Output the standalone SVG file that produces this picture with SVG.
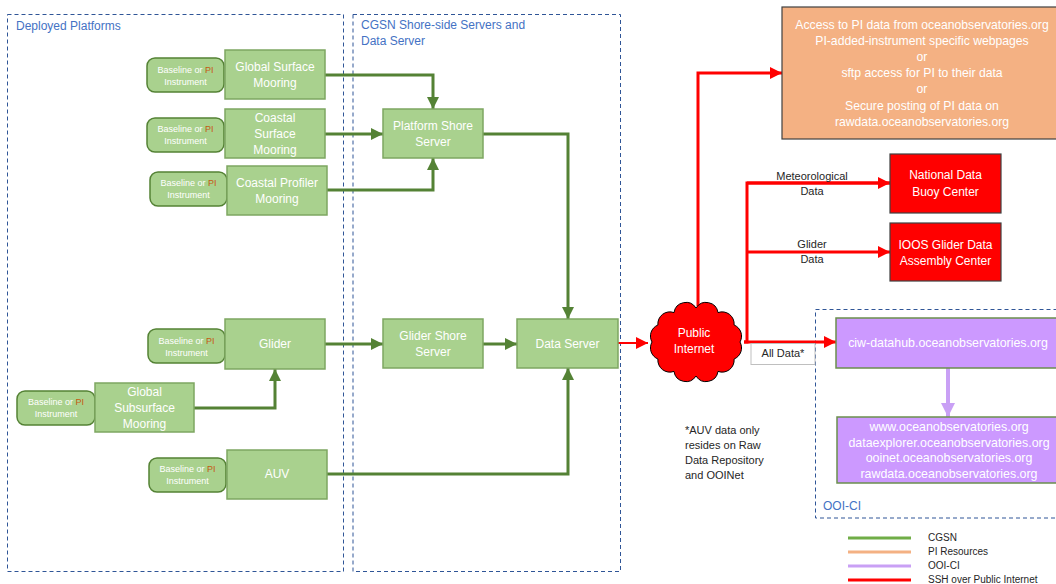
<svg xmlns="http://www.w3.org/2000/svg" width="1056" height="584" viewBox="0 0 1056 584">
<style>
text{font-family:"Liberation Sans",Arial,sans-serif}
.zone{fill:none;stroke:#2F5597;stroke-width:1;stroke-dasharray:4 3}
.ztitle{fill:#4472C4;font-size:12px}
.plat{fill:#A9D18E;stroke:#7EA661;stroke-width:1.5}
.pill{fill:#A9D18E;stroke:#548235;stroke-width:1.5}
.wt{fill:#fff;font-size:12px;text-anchor:middle}
.pt{fill:#fff;font-size:9px;text-anchor:middle}
.pi{fill:#C55A11}
.g{fill:none;stroke:#548235;stroke-width:3;marker-end:url(#ag)}
.r{fill:none;stroke:#FF0000;stroke-width:3}
.ra{marker-end:url(#ar)}
.lbl{fill:#262626;font-size:11px;text-anchor:middle}
.ot{fill:#fff;font-size:12.2px;text-anchor:middle}
.purp{fill:#CC99FF;stroke:#6B8E4E;stroke-width:1.5}
.put{fill:#fff;font-size:12.4px;text-anchor:middle}
.lg{font-size:10px;fill:#262626}
</style>
<defs>
<marker id="ag" markerUnits="userSpaceOnUse" viewBox="0 0 12 12" refX="12" refY="6" markerWidth="12" markerHeight="12" orient="auto"><path d="M0,0 L12,6 L0,12 z" fill="#548235"/></marker>
<marker id="ar" markerUnits="userSpaceOnUse" viewBox="0 0 12 12" refX="12" refY="6" markerWidth="12" markerHeight="12" orient="auto"><path d="M0,0 L12,6 L0,12 z" fill="#FF0000"/></marker>
<marker id="ap" markerUnits="userSpaceOnUse" viewBox="0 0 14 14" refX="14" refY="7" markerWidth="14" markerHeight="14" orient="auto"><path d="M0,0 L14,7 L0,14 z" fill="#C9A0F5"/></marker>
</defs>
<rect width="1056" height="584" fill="#fff"/>

<g id="zone-deployed">
<rect class="zone" x="7.5" y="14.5" width="336" height="557"/>
<text class="ztitle" x="16" y="30">Deployed Platforms</text>
</g>
<g id="zone-cgsn">
<rect class="zone" x="353" y="14.5" width="267.5" height="557"/>
<text class="ztitle" x="361" y="29">CGSN Shore-side Servers and</text>
<text class="ztitle" x="361" y="45">Data Server</text>
</g>
<g id="zone-ooici">
<rect class="zone" x="815.5" y="309.5" width="250" height="208.5"/>
<text class="ztitle" x="823" y="510">OOI-CI</text>
</g>

<g id="connectors">
<polyline class="g" points="325,75 433,75 433,109"/>
<polyline class="g" points="325,134 383,134"/>
<polyline class="g" points="327,190 433,190 433,158"/>
<polyline class="g" points="483,134 568,134 568,319"/>
<polyline class="g" points="325,344 383,344"/>
<polyline class="g" points="483,344 517,344"/>
<polyline class="g" points="194,408 275,408 275,369"/>
<polyline class="g" points="327,474 568,474 568,368"/>
<polyline class="r ra" style="stroke-width:2" points="618,343 648,343"/>
<polyline class="r ra" points="698,306 698,73 782,73"/>
<polyline class="r" points="744,342 747,342 747,183 890,183"/>
<polyline class="r ra" points="747,183 890,183"/>
<polyline class="r ra" points="747,252 890,252"/>
<polyline class="r ra" points="744,342 836,342"/>
<line x1="948" y1="368" x2="948" y2="417" stroke="#C9A0F5" stroke-width="4" marker-end="url(#ap)"/>
</g>

<g id="lbl-met"><text class="lbl" x="812" y="180">Meteorological</text><text class="lbl" x="812" y="195">Data</text></g>
<g id="lbl-glider"><text class="lbl" x="812" y="248">Glider</text><text class="lbl" x="812" y="263">Data</text></g>
<g id="lbl-all">
<rect x="751" y="343.5" width="64" height="21" fill="#fff" stroke="#BFBFBF" stroke-width="1"/>
<text class="lbl" x="783" y="357">All Data*</text>
</g>

<g id="n-gsm">
<rect class="pill" x="147" y="58" width="77" height="34" rx="8"/>
<text class="pt" x="185.5" y="73">Baseline or <tspan class="pi">PI</tspan></text>
<text class="pt" x="185.5" y="85">Instrument</text>
<rect class="plat" x="225" y="50" width="100" height="49"/>
<text class="wt" x="275" y="71">Global Surface</text>
<text class="wt" x="275" y="87">Mooring</text>
</g>
<g id="n-csm">
<rect class="pill" x="147" y="118" width="77" height="34" rx="8"/>
<text class="pt" x="185.5" y="132">Baseline or <tspan class="pi">PI</tspan></text>
<text class="pt" x="185.5" y="144">Instrument</text>
<rect class="plat" x="225" y="109" width="100" height="49"/>
<text class="wt" x="275" y="122">Coastal</text>
<text class="wt" x="275" y="138">Surface</text>
<text class="wt" x="275" y="154">Mooring</text>
</g>
<g id="n-cpm">
<rect class="pill" x="150" y="172" width="77" height="34" rx="8"/>
<text class="pt" x="188.5" y="186">Baseline or <tspan class="pi">PI</tspan></text>
<text class="pt" x="188.5" y="198">Instrument</text>
<rect class="plat" x="227" y="166" width="100" height="49"/>
<text class="wt" x="277" y="187">Coastal Profiler</text>
<text class="wt" x="277" y="203">Mooring</text>
</g>
<g id="n-glider">
<rect class="pill" x="148" y="329" width="77" height="34" rx="8"/>
<text class="pt" x="186.5" y="344">Baseline or <tspan class="pi">PI</tspan></text>
<text class="pt" x="186.5" y="356">Instrument</text>
<rect class="plat" x="225" y="319" width="100" height="50"/>
<text class="wt" x="275" y="348">Glider</text>
</g>
<g id="n-gssm">
<rect class="pill" x="17" y="391" width="78" height="34" rx="8"/>
<text class="pt" x="56" y="405">Baseline or <tspan class="pi">PI</tspan></text>
<text class="pt" x="56" y="417">Instrument</text>
<rect class="plat" x="95" y="383" width="99" height="49"/>
<text class="wt" x="144.5" y="396">Global</text>
<text class="wt" x="144.5" y="412">Subsurface</text>
<text class="wt" x="144.5" y="428">Mooring</text>
</g>
<g id="n-auv">
<rect class="pill" x="149" y="458" width="77" height="34" rx="8"/>
<text class="pt" x="187.5" y="472">Baseline or <tspan class="pi">PI</tspan></text>
<text class="pt" x="187.5" y="484">Instrument</text>
<rect class="plat" x="227" y="450" width="100" height="49"/>
<text class="wt" x="277" y="478">AUV</text>
</g>
<g id="n-pss">
<rect class="plat" x="383" y="109" width="100" height="49"/>
<text class="wt" x="433" y="130">Platform Shore</text>
<text class="wt" x="433" y="146">Server</text>
</g>
<g id="n-gss">
<rect class="plat" x="383" y="319" width="100" height="49"/>
<text class="wt" x="433" y="340">Glider Shore</text>
<text class="wt" x="433" y="356">Server</text>
</g>
<g id="n-ds">
<rect class="plat" x="517" y="319" width="101" height="49"/>
<text class="wt" x="567.5" y="348">Data Server</text>
</g>
<g id="n-cloud">
<path d="M740,342 A12,12 0 0 1 734.1,359 A12,12 0 0 1 718,371.4 A12,12 0 0 1 696,376 A12,12 0 0 1 674,371.4 A12,12 0 0 1 657.9,359 A12,12 0 0 1 652,342 A12,12 0 0 1 657.9,325 A12,12 0 0 1 674,312.6 A12,12 0 0 1 696,308 A12,12 0 0 1 718,312.6 A12,12 0 0 1 734.1,325 A12,12 0 0 1 740,342 z" fill="#FF0000" stroke="#000" stroke-width="1"/>
<text class="wt" x="694" y="337">Public</text>
<text class="wt" x="694" y="353">Internet</text>
</g>
<g id="n-pi">
<rect x="782" y="7" width="290" height="132" fill="#F4B183" stroke="#404040" stroke-width="1.2"/>
<text class="ot" x="922" y="29">Access to PI data from oceanobservatories.org</text>
<text class="ot" x="922" y="45">PI-added-instrument specific webpages</text>
<text class="ot" x="922" y="61">or</text>
<text class="ot" x="922" y="77">sftp access for PI to their data</text>
<text class="ot" x="922" y="93">or</text>
<text class="ot" x="922" y="110">Secure posting of PI data on</text>
<text class="ot" x="922" y="126">rawdata.oceanobservatories.org</text>
</g>
<g id="n-ndbc">
<rect x="890" y="154" width="111" height="59" fill="#FF0000" stroke="#404040" stroke-width="1.2"/>
<text class="wt" x="945.5" y="179">National Data</text>
<text class="wt" x="945.5" y="196">Buoy Center</text>
</g>
<g id="n-ioos">
<rect x="890" y="223" width="111" height="58" fill="#FF0000" stroke="#404040" stroke-width="1.2"/>
<text class="wt" x="945.5" y="249">IOOS Glider Data</text>
<text class="wt" x="945.5" y="265">Assembly Center</text>
</g>
<g id="n-ciw">
<rect class="purp" x="836" y="318" width="230" height="50"/>
<text class="put" x="948" y="347">ciw-datahub.oceanobservatories.org</text>
</g>
<g id="n-web">
<rect class="purp" x="837" y="417" width="230" height="66"/>
<text class="put" x="949" y="431">www.oceanobservatories.org</text>
<text class="put" x="949" y="447">dataexplorer.oceanobservatories.org</text>
<text class="put" x="949" y="462">ooinet.oceanobservatories.org</text>
<text class="put" x="949" y="478">rawdata.oceanobservatories.org</text>
</g>
<g id="note">
<text class="lbl" style="text-anchor:start" x="685" y="434">*AUV data only</text>
<text class="lbl" style="text-anchor:start" x="685" y="449">resides on Raw</text>
<text class="lbl" style="text-anchor:start" x="685" y="464">Data Repository</text>
<text class="lbl" style="text-anchor:start" x="685" y="479">and OOINet</text>
</g>
<g id="legend">
<line x1="848" y1="538" x2="911" y2="538" stroke="#70AD47" stroke-width="3"/>
<line x1="848" y1="552" x2="911" y2="552" stroke="#F4B183" stroke-width="3"/>
<line x1="848" y1="566" x2="911" y2="566" stroke="#C9A0F5" stroke-width="3"/>
<line x1="848" y1="580" x2="911" y2="580" stroke="#FF0000" stroke-width="3"/>
<text class="lg" x="928" y="541">CGSN</text>
<text class="lg" x="928" y="555">PI Resources</text>
<text class="lg" x="928" y="569">OOI-CI</text>
<text class="lg" x="928" y="583">SSH over Public Internet</text>
</g>
</svg>
